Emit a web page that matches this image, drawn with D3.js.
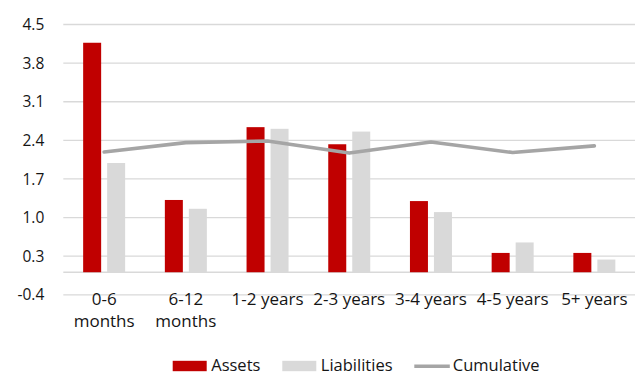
<!DOCTYPE html>
<html>
<head>
<meta charset="utf-8">
<script src="https://cdn.jsdelivr.net/npm/d3@7"></script>
<style>
  html, body { margin: 0; padding: 0; background: #fff; }
  svg { display: block; font-family: "Open Sans", Lato, sans-serif; }
</style>
</head>
<body>
<svg id="chart" width="635" height="376"></svg>
<script>
// Maturity buckets and the two gap series, plus the cumulative line
const categories = ["0-6 months", "6-12 months", "1-2 years", "2-3 years", "3-4 years", "4-5 years", "5+ years"];
const assets      = [4.16, 1.31, 2.63, 2.32, 1.29, 0.35, 0.35];
const liabilities = [1.98, 1.15, 2.60, 2.55, 1.09, 0.54, 0.23];
const cumulative  = [2.18, 2.35, 2.38, 2.16, 2.36, 2.17, 2.29];
const yTicks = [-0.4, 0.3, 1.0, 1.7, 2.4, 3.1, 3.8, 4.5];
const seriesNames = ["Assets", "Liabilities", "Cumulative"];

const colors = { Assets: "#c00000", Liabilities: "#d9d9d9", Cumulative: "#a5a5a5" };
const textColor = "#151515";

const svg = d3.select("#chart");
const plotLeft = 63.3, plotRight = 635.2, plotTop = 24, plotBottom = 294.3;

const y = d3.scaleLinear().domain([-0.4, 4.5]).range([plotBottom, plotTop]);
const x0 = d3.scaleBand().domain(categories).range([plotLeft, plotRight]).paddingInner(0).paddingOuter(0);
const groupW = 42;
const x1 = d3.scaleBand().domain(["Assets", "Liabilities"]).range([0, groupW]).paddingInner(0.25).paddingOuter(0);
const groupOffset = (x0.bandwidth() - groupW) / 2;

// Horizontal gridlines with tick labels
const yAxis = d3.axisLeft(y).tickValues(yTicks).tickFormat(d => d.toFixed(1)).tickSize(0).tickPadding(0);
const gy = svg.append("g").attr("transform", `translate(${plotLeft},0)`).call(yAxis);
gy.select(".domain").remove();
gy.selectAll(".tick line").remove();
gy.selectAll(".tick text")
  .attr("x", -19)
  .attr("dy", "0.36em")
  .attr("fill", textColor)
  .style("font-size", "15.5px")
  .style("font-family", "'Open Sans', Lato, sans-serif");
gy.selectAll(".tick").append("line")
  .attr("x1", 0).attr("x2", plotRight - plotLeft)
  .attr("stroke", "#d9d9d9").attr("stroke-width", 1.3);

// Category axis line at zero
svg.append("line")
  .attr("x1", plotLeft).attr("x2", plotRight)
  .attr("y1", y(0)).attr("y2", y(0))
  .attr("stroke", "#d9d9d9").attr("stroke-width", 1.3);

// Bars
const rows = categories.map((c, i) => ({ cat: c, Assets: assets[i], Liabilities: liabilities[i] }));
const groups = svg.append("g").selectAll("g").data(rows).join("g")
  .attr("transform", d => `translate(${x0(d.cat) + groupOffset},0)`);
groups.selectAll("rect")
  .data(d => ["Assets", "Liabilities"].map(k => ({ key: k, value: d[k] })))
  .join("rect")
  .attr("x", d => x1(d.key))
  .attr("width", x1.bandwidth())
  .attr("y", d => y(Math.max(0, d.value)))
  .attr("height", d => Math.abs(y(d.value) - y(0)))
  .attr("fill", d => colors[d.key]);

// Cumulative line
const line = d3.line()
  .x((d, i) => x0(categories[i]) + x0.bandwidth() / 2)
  .y(d => y(d));
svg.append("path")
  .datum(cumulative)
  .attr("d", line)
  .attr("fill", "none")
  .attr("stroke", colors.Cumulative)
  .attr("stroke-width", 3.6)
  .attr("stroke-linejoin", "round")
  .attr("stroke-linecap", "round");

// Category labels (month buckets wrap onto two lines)
const xAxis = d3.axisBottom(x0).tickSize(0).tickPadding(0);
const gx = svg.append("g").attr("transform", `translate(0,${plotBottom})`).call(xAxis);
gx.select(".domain").remove();
gx.selectAll(".tick text").each(function(d) {
  const t = d3.select(this);
  const parts = d.includes("months") ? d.split(" ") : [d];
  t.text(null)
    .attr("y", 0).attr("dy", null)
    .attr("fill", textColor)
    .style("font-size", "17px")
    .style("font-family", "'Open Sans', Lato, sans-serif");
  parts.forEach((p, j) => {
    t.append("tspan").attr("x", 0).attr("y", 10.2 + j * 23).text(p);
  });
});

// Legend along the bottom edge
const legend = svg.append("g");
const legendX = [172.7, 282.3, 414.3];
const legendBase = 371.4;
seriesNames.forEach((name, i) => {
  const g = legend.append("g").attr("transform", `translate(${legendX[i]},0)`);
  if (name === "Cumulative") {
    g.append("line").attr("x1", 0).attr("x2", 35.5)
      .attr("y1", legendBase - 5.2).attr("y2", legendBase - 5.2)
      .attr("stroke", colors[name]).attr("stroke-width", 3.4);
  } else {
    g.append("rect").attr("x", 0).attr("y", legendBase - 10.6).attr("width", 34).attr("height", 10.4)
      .attr("fill", colors[name]);
  }
  g.append("text").attr("x", 38.5).attr("y", legendBase)
    .attr("fill", textColor)
    .style("font-size", "16.5px")
    .text(name);
});
</script>
</body>
</html>
